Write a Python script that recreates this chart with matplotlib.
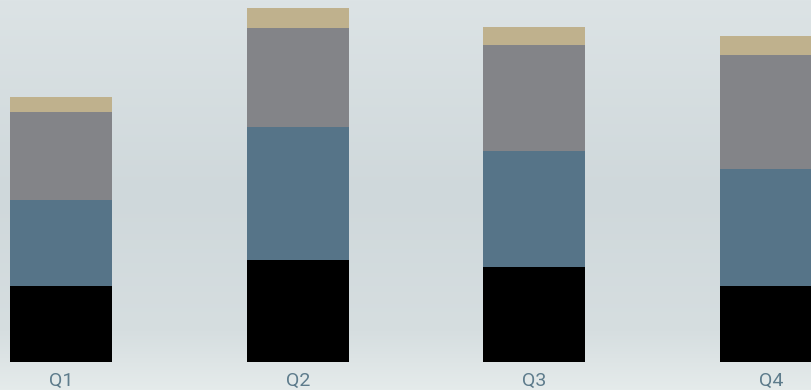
import matplotlib.pyplot as plt
import numpy as np

quarters = ["Q1", "Q2", "Q3", "Q4"]
series_a = [76, 102, 95, 76]
series_b = [86, 133, 116, 117]
series_c = [88, 99, 106, 114]
series_d = [15, 20, 18, 19]
colors = ["#000000", "#567488", "#838488", "#bfb18d"]

fig = plt.figure(figsize=(8.11, 3.9), dpi=100)

# background gradient
bg = fig.add_axes([0, 0, 1, 1])
grad = np.array([
    [220, 227, 229],
    [207, 216, 219],
    [214, 222, 224],
    [229, 235, 235],
]) / 255.0
stops = np.array([0.0, 0.5, 0.85, 1.0])
t = np.linspace(0, 1, 390)
img = np.stack([np.interp(t, stops, grad[:, k]) for k in range(3)], axis=1)
bg.imshow(img[:, None, :], aspect="auto", extent=[0, 1, 0, 1])
bg.axis("off")

ax = fig.add_axes([0, 28 / 390, 1, 362 / 390])
ax.set_facecolor("none")
x = np.arange(len(quarters))
bottom = np.zeros(len(quarters))
for vals, c in zip([series_a, series_b, series_c, series_d], colors):
    ax.bar(x, vals, width=0.431, bottom=bottom, color=c)
    bottom += np.array(vals)

ax.set_xlim(-0.258, 3.169)
ax.set_ylim(0, 362)
ax.set_xticks(x)
ax.set_xticklabels(quarters, fontfamily="Roboto", fontsize=14, color="#5e7c8c")
ax.tick_params(axis="x", length=0, pad=7)
ax.set_yticks([])
for s in ax.spines.values():
    s.set_visible(False)

fig.savefig("out.png", dpi=100)
